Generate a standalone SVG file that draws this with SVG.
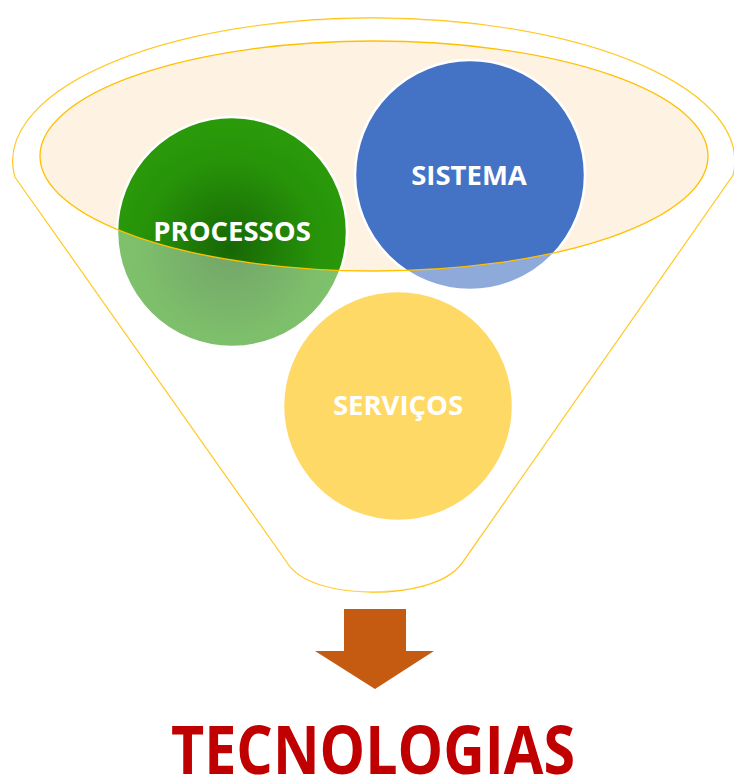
<svg xmlns="http://www.w3.org/2000/svg" width="734" height="776" viewBox="0 0 734 776">
<style>
.gold{fill:none;stroke:#FFC000;stroke-width:1.3}
.lbl{font-family:"Open Sans","Liberation Sans",sans-serif;font-weight:bold;font-size:27.5px;fill:#FFFFFF;text-anchor:middle}
.circ{stroke:#FFFFFF;stroke-width:2.5}
.title{font-family:"Open Sans","Liberation Sans",sans-serif;font-weight:bold;font-size:66px;fill:#C00000;text-anchor:middle}
</style>
<defs>
<radialGradient id="gGreen" cx="230" cy="248" r="125" gradientUnits="userSpaceOnUse">
<stop offset="0" stop-color="#176705"/>
<stop offset="0.7" stop-color="#279309"/>
<stop offset="1" stop-color="#2A9A0A"/>
</radialGradient>
</defs>
<rect width="734" height="776" fill="#FFFFFF"/>
<g id="funnel">
<path d="M15,177 L286,561 C300,585 340,592 373,592 C406,592 446,585 462,563 L733,175 A361 143 0 1 0 15,177 Z" class="gold" style="fill:#FFFFFF"/>
<ellipse cx="374" cy="156" rx="334" ry="115" fill="#FEF2E3"/>
</g>
<g id="node-processos">
<circle class="circ" cx="232" cy="232" r="115" fill="url(#gGreen)"/>
</g>
<g id="node-sistema">
<circle class="circ" cx="470" cy="175" r="115" fill="#4472C4"/>
</g>
<g id="node-servicos">
<circle class="circ" cx="398" cy="406" r="115" fill="#FFC000"/>
</g>
<path d="M15,177 L286,561 C300,585 340,592 373,592 C406,592 446,585 462,563 L733,175 A361 143 0 1 0 15,177 Z M40,156 A334 115 0 1 0 708,156 A334 115 0 1 0 40,156 Z" fill="#FFFFFF" fill-opacity="0.4" fill-rule="evenodd"/>
<ellipse class="gold" cx="374" cy="156" rx="334" ry="115"/>
<text class="lbl" x="232" y="241">PROCESSOS</text>
<text class="lbl" x="469" y="185">SISTEMA</text>
<text class="lbl" x="398" y="415">SERVIÇOS</text>
<g id="connectors">
<path d="M344,609 L406,609 L406,651 L434,651 L375,689 L315,651 L344,651 Z" fill="#C55A11"/>
</g>
<g id="node-tecnologias">
<text class="title" x="373" y="774" textLength="404" lengthAdjust="spacingAndGlyphs">TECNOLOGIAS</text>
</g>
</svg>
